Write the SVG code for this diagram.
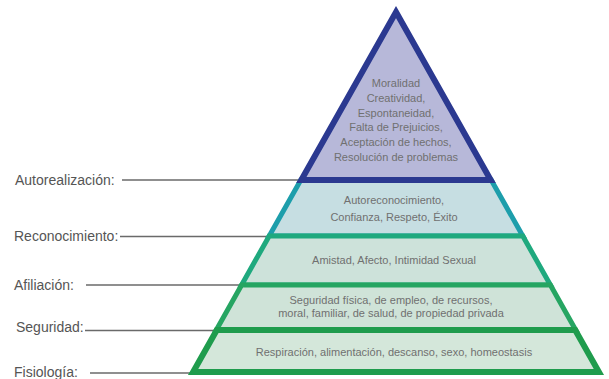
<svg xmlns="http://www.w3.org/2000/svg" width="609" height="379" viewBox="0 0 609 379">
<style>
.lbl{font-family:"Liberation Sans",Arial,sans-serif;font-size:14px;fill:#555}
.txt{font-family:"Liberation Sans",Arial,sans-serif;font-size:11px;fill:#707070;text-anchor:middle}
.lead{stroke:#6a6a6a;stroke-width:1.6;fill:none}
.lay{stroke-linejoin:miter;stroke-miterlimit:10}
</style>
<rect width="609" height="379" fill="#ffffff"/>
<g id="connectors">
<line class="lead" x1="122" y1="180" x2="298" y2="180"/>
<line class="lead" x1="120" y1="236.5" x2="268" y2="236.5"/>
<line class="lead" x1="86" y1="285" x2="240" y2="285"/>
<line class="lead" x1="85" y1="330.5" x2="214" y2="330.5"/>
<line class="lead" x1="90" y1="373" x2="190" y2="373"/>
</g>
<g id="reconocimiento">
<polygon class="lay" points="300.8,180 491.2,180 522.8,236 269.2,236" fill="#c6dee2" stroke="#1d9eab" stroke-width="5"/>
<text class="txt" x="394" y="204">Autoreconocimiento,</text>
<text class="txt" x="394" y="221">Confianza, Respeto, Éxito</text>
</g>
<g id="afiliacion">
<polygon class="lay" points="269.2,236 522.8,236 550.4,285 241.6,285" fill="#cde2da" stroke="#1fa97e" stroke-width="5"/>
<text class="txt" x="394" y="264">Amistad, Afecto, Intimidad Sexual</text>
</g>
<g id="seguridad">
<polygon class="lay" points="241.6,285 550.4,285 575.7,330 216.3,330" fill="#cfe3d8" stroke="#26a562" stroke-width="5"/>
<text class="txt" x="391" y="304">Seguridad física, de empleo, de recursos,</text>
<text class="txt" x="391" y="317">moral, familiar, de salud, de propiedad privada</text>
</g>
<g id="fisiologia">
<polygon class="lay" points="216.8,330 575.2,330 598.9,372 193.1,372" fill="#d4e7da" stroke="#1f9c4d" stroke-width="6"/>
<text class="txt" x="394" y="356">Respiración, alimentación, descanso, sexo, homeostasis</text>
</g>
<g id="autorealizacion">
<polygon class="lay" points="396,12 490.7,180 301.3,180" fill="#b7b8d9" stroke="#2b3990" stroke-width="6"/>
<text class="txt" x="396" y="87">Moralidad</text>
<text class="txt" x="396" y="102">Creatividad,</text>
<text class="txt" x="396" y="116.5">Espontaneidad,</text>
<text class="txt" x="396" y="131">Falta de Prejuicios,</text>
<text class="txt" x="396" y="146">Aceptación de hechos,</text>
<text class="txt" x="396" y="161">Resolución de problemas</text>
</g>
<g id="labels">
<text class="lbl" x="15" y="185">Autorealización:</text>
<text class="lbl" x="14" y="241">Reconocimiento:</text>
<text class="lbl" x="14" y="290">Afiliación:</text>
<text class="lbl" x="16" y="332">Seguridad:</text>
<text class="lbl" x="14" y="377">Fisiología:</text>
</g>
</svg>
